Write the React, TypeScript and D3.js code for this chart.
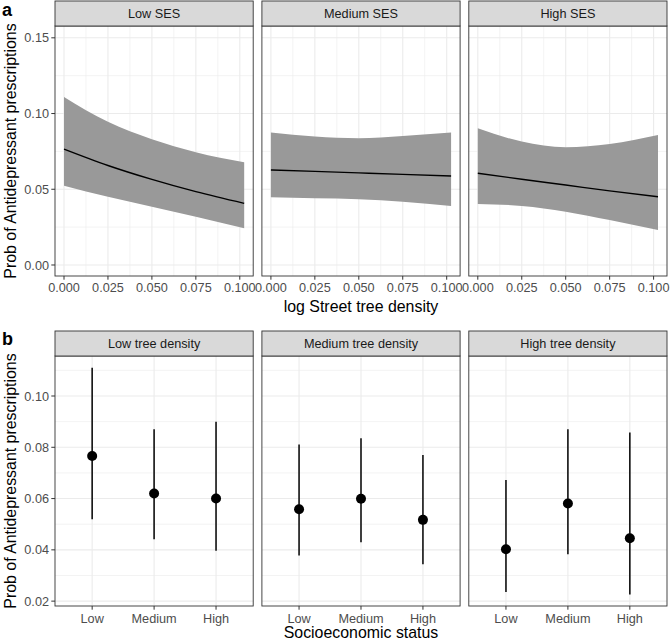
import React from "react";
import * as d3 from "d3";

// ---------- Data ----------
const sesLevels = ["Low SES", "Medium SES", "High SES"];
const densityX = [0, 0.025, 0.05, 0.075, 0.1025];
const lowSesFit = [0.0765, 0.0657, 0.0565, 0.0484, 0.0407];
const lowSesUpper = [0.111, 0.0945, 0.083, 0.0745, 0.0678];
const lowSesLower = [0.0524, 0.0451, 0.0385, 0.0319, 0.0242];
const medSesFit = [0.0627, 0.0618, 0.0608, 0.0598, 0.0588];
const medSesUpper = [0.0874, 0.0848, 0.0837, 0.0852, 0.0874];
const medSesLower = [0.0447, 0.044, 0.0434, 0.0418, 0.039];
const highSesFit = [0.0606, 0.0566, 0.0528, 0.0489, 0.0451];
const highSesUpper = [0.0903, 0.0815, 0.0778, 0.0799, 0.0859];
const highSesLower = [0.0403, 0.039, 0.0352, 0.0297, 0.0231];

const densityLevels = ["Low tree density", "Medium tree density", "High tree density"];
const sesCategories = ["Low", "Medium", "High"];
const lowDensityEst = [0.0766, 0.062, 0.06];
const lowDensityUpper = [0.111, 0.087, 0.09];
const lowDensityLower = [0.0519, 0.0441, 0.0396];
const medDensityEst = [0.0558, 0.0599, 0.0517];
const medDensityUpper = [0.0811, 0.0835, 0.077];
const medDensityLower = [0.0378, 0.043, 0.0344];
const highDensityEst = [0.0402, 0.0581, 0.0445];
const highDensityUpper = [0.0672, 0.087, 0.0858];
const highDensityLower = [0.0236, 0.0383, 0.0226];

const xTicksA = [0, 0.025, 0.05, 0.075, 0.1];
const xMinorA = [0.0125, 0.0375, 0.0625, 0.0875];
const yTicksA = [0, 0.05, 0.1, 0.15];
const yMinorA = [0.025, 0.075, 0.125];
const yTicksB = [0.02, 0.04, 0.06, 0.08, 0.1];
const yMinorB = [0.03, 0.05, 0.07, 0.09, 0.11];

const panelA = [
  { fit: lowSesFit, upper: lowSesUpper, lower: lowSesLower },
  { fit: medSesFit, upper: medSesUpper, lower: medSesLower },
  { fit: highSesFit, upper: highSesUpper, lower: highSesLower },
];
const panelB = [
  { est: lowDensityEst, upper: lowDensityUpper, lower: lowDensityLower },
  { est: medDensityEst, upper: medDensityUpper, lower: medDensityLower },
  { est: highDensityEst, upper: highDensityUpper, lower: highDensityLower },
];

// ---------- Layout ----------
const W = 670;
const H = 643;
const FONT = "'Liberation Sans', Arial, Helvetica, sans-serif";
const plotLeft = 55;
const plotRight = 667;
const gap = 8.7;
const panelW = (plotRight - plotLeft - 2 * gap) / 3;
const panelXs = [0, 1, 2].map((i) => plotLeft + i * (panelW + gap));

const aStripTop = 1;
const aTop = 26;
const aBottom = 276;
const bStripTop = 331;
const bTop = 356;
const bBottom = 606;

const tickCol = "#4d4d4d";
const gridCol = "#ebebeb";
const borderCol = "#333333";
const tickFs = 12.7;
const titleFs = 15.9;

const xA = d3.scaleLinear().domain([-0.005125, 0.107625]).range([0, panelW]);
const yA = d3.scaleLinear().domain([-0.00727, 0.1578]).range([aBottom, aTop]);
const xB = d3.scalePoint().domain(sesCategories).range([0, panelW]).padding(0.6);
const yB = d3.scaleLinear().domain([0.0181, 0.1156]).range([bBottom, bTop]);

const fmt2 = d3.format(".2f");
const fmt3 = d3.format(".3f");

function Strip({ x, y, h, label }: { x: number; y: number; h: number; label: string }) {
  return (
    <g>
      <rect x={x} y={y} width={panelW} height={h} fill="#d9d9d9" stroke={borderCol} strokeWidth={0.9} />
      <text x={x + panelW / 2} y={y + h / 2} dy="0.36em" textAnchor="middle" fontSize={tickFs} fill="#1a1a1a" fontFamily={FONT}>
        {label}
      </text>
    </g>
  );
}

export default function App() {
  const area = d3
    .area<number>()
    .x((_, i) => xA(densityX[i]))
    .curve(d3.curveMonotoneX);
  const line = d3
    .line<number>()
    .x((_, i) => xA(densityX[i]))
    .y((d) => yA(d))
    .curve(d3.curveMonotoneX);

  return (
    <svg width={W} height={H} style={{ position: "absolute", left: 0, top: 0, background: "#fff" }} fontFamily={FONT}>
      <rect x={0} y={0} width={W} height={H} fill="#fff" />
      {/* ---------- Panel a ---------- */}
      <text x={2} y={15.5} fontSize={18} fontWeight="bold" fontFamily={FONT}>a</text>
      {panelA.map((p, i) => {
        const x0 = panelXs[i];
        const ar = area.y0((_, k) => yA(p.lower[k])).y1((_, k) => yA(p.upper[k]));
        return (
          <g key={"a" + i}>
            <g transform={`translate(${x0},0)`}>
              {yMinorA.map((t) => (
                <line key={"ym" + t} x1={0} x2={panelW} y1={yA(t)} y2={yA(t)} stroke={gridCol} strokeWidth={0.6} />
              ))}
              {xMinorA.map((t) => (
                <line key={"xm" + t} x1={xA(t)} x2={xA(t)} y1={aTop} y2={aBottom} stroke={gridCol} strokeWidth={0.6} />
              ))}
              {yTicksA.map((t) => (
                <line key={"y" + t} x1={0} x2={panelW} y1={yA(t)} y2={yA(t)} stroke={gridCol} strokeWidth={1.1} />
              ))}
              {xTicksA.map((t) => (
                <line key={"x" + t} x1={xA(t)} x2={xA(t)} y1={aTop} y2={aBottom} stroke={gridCol} strokeWidth={1.1} />
              ))}
              <path d={ar(p.fit) || ""} fill="#999999" />
              <path d={line(p.fit) || ""} fill="none" stroke="#000" strokeWidth={1.4} />
              <rect x={0} y={aTop} width={panelW} height={aBottom - aTop} fill="none" stroke={borderCol} strokeWidth={0.9} />
              {xTicksA.map((t) => (
                <g key={"xt" + t}>
                  <line x1={xA(t)} x2={xA(t)} y1={aBottom} y2={aBottom + 3.7} stroke={borderCol} strokeWidth={1} />
                  <text x={xA(t)} y={291.7} textAnchor="middle" fontSize={tickFs} fill={tickCol}>
                    {fmt3(t)}
                  </text>
                </g>
              ))}
            </g>
            <Strip x={x0} y={aStripTop} h={aTop - aStripTop} label={sesLevels[i]} />
          </g>
        );
      })}
      {yTicksA.map((t) => (
        <g key={"ayt" + t}>
          <line x1={plotLeft - 3.7} x2={plotLeft} y1={yA(t)} y2={yA(t)} stroke={borderCol} strokeWidth={1} />
          <text x={plotLeft - 6} y={yA(t)} dy="0.36em" textAnchor="end" fontSize={tickFs} fill={tickCol}>
            {fmt2(t)}
          </text>
        </g>
      ))}
      <text x={(plotLeft + plotRight) / 2} y={311.7} textAnchor="middle" fontSize={titleFs} fill="#000">
        log Street tree density
      </text>
      <text transform={`translate(15.5,${(aTop + aBottom) / 2}) rotate(-90)`} textAnchor="middle" fontSize={titleFs} fill="#000">
        Prob of Antidepressant prescriptions
      </text>

      {/* ---------- Panel b ---------- */}
      <text x={2} y={345} fontSize={18} fontWeight="bold" fontFamily={FONT}>b</text>
      {panelB.map((p, i) => {
        const x0 = panelXs[i];
        return (
          <g key={"b" + i}>
            <g transform={`translate(${x0},0)`}>
              {yMinorB.map((t) => (
                <line key={"ym" + t} x1={0} x2={panelW} y1={yB(t)} y2={yB(t)} stroke={gridCol} strokeWidth={0.6} />
              ))}
              {yTicksB.map((t) => (
                <line key={"y" + t} x1={0} x2={panelW} y1={yB(t)} y2={yB(t)} stroke={gridCol} strokeWidth={1.1} />
              ))}
              {sesCategories.map((c) => (
                <line key={"x" + c} x1={xB(c)!} x2={xB(c)!} y1={bTop} y2={bBottom} stroke={gridCol} strokeWidth={1.1} />
              ))}
              {sesCategories.map((c, k) => (
                <g key={"pt" + c}>
                  <line x1={xB(c)!} x2={xB(c)!} y1={yB(p.lower[k])} y2={yB(p.upper[k])} stroke="#111" strokeWidth={1.6} />
                  <circle cx={xB(c)!} cy={yB(p.est[k])} r={5} fill="#000" />
                </g>
              ))}
              <rect x={0} y={bTop} width={panelW} height={bBottom - bTop} fill="none" stroke={borderCol} strokeWidth={0.9} />
              {sesCategories.map((c) => (
                <g key={"xt" + c}>
                  <line x1={xB(c)!} x2={xB(c)!} y1={bBottom} y2={bBottom + 3.7} stroke={borderCol} strokeWidth={1} />
                  <text x={xB(c)!} y={622.7} textAnchor="middle" fontSize={tickFs} fill={tickCol}>
                    {c}
                  </text>
                </g>
              ))}
            </g>
            <Strip x={x0} y={bStripTop} h={bTop - bStripTop} label={densityLevels[i]} />
          </g>
        );
      })}
      {yTicksB.map((t) => (
        <g key={"byt" + t}>
          <line x1={plotLeft - 3.7} x2={plotLeft} y1={yB(t)} y2={yB(t)} stroke={borderCol} strokeWidth={1} />
          <text x={plotLeft - 6} y={yB(t)} dy="0.36em" textAnchor="end" fontSize={tickFs} fill={tickCol}>
            {fmt2(t)}
          </text>
        </g>
      ))}
      <text x={(plotLeft + plotRight) / 2} y={638.3} textAnchor="middle" fontSize={titleFs} fill="#000">
        Socioeconomic status
      </text>
      <text transform={`translate(15.5,${(bTop + bBottom) / 2}) rotate(-90)`} textAnchor="middle" fontSize={titleFs} fill="#000">
        Prob of Antidepressant prescriptions
      </text>
    </svg>
  );
}
